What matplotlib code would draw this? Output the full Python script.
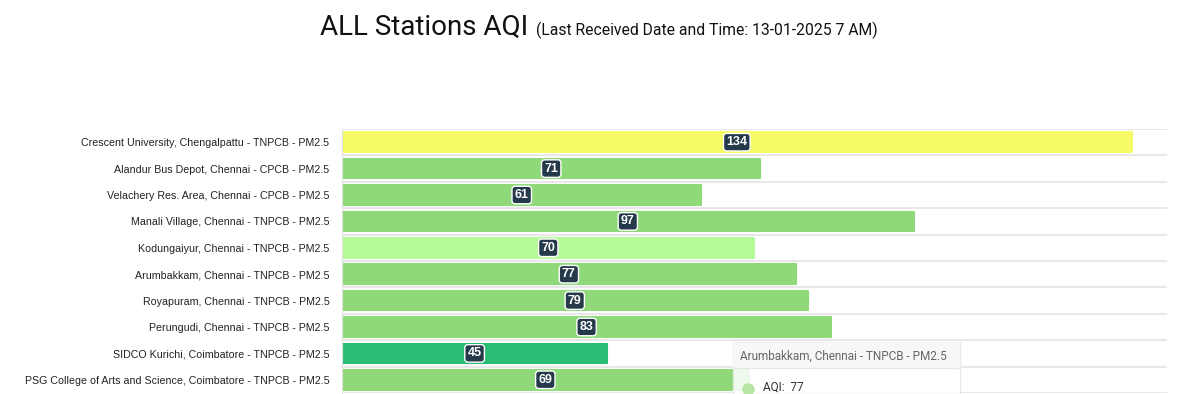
import matplotlib.pyplot as plt
from matplotlib.patches import Rectangle
from matplotlib.lines import Line2D

stations = [
    "Crescent University, Chengalpattu - TNPCB - PM2.5",
    "Alandur Bus Depot, Chennai - CPCB - PM2.5",
    "Velachery Res. Area, Chennai - CPCB - PM2.5",
    "Manali Village, Chennai - TNPCB - PM2.5",
    "Kodungaiyur, Chennai - TNPCB - PM2.5",
    "Arumbakkam, Chennai - TNPCB - PM2.5",
    "Royapuram, Chennai - TNPCB - PM2.5",
    "Perungudi, Chennai - TNPCB - PM2.5",
    "SIDCO Kurichi, Coimbatore - TNPCB - PM2.5",
    "PSG College of Arts and Science, Coimbatore - TNPCB - PM2.5",
]
aqi = [134, 71, 61, 97, 70, 77, 79, 83, 45, 69]
colors = ["#f4fb66", "#8fd97b", "#8fd97b", "#8fd97b", "#b6fb97",
          "#8fd97b", "#8fd97b", "#8fd97b", "#2bbd73", "#8fd97b"]

W, H = 1200, 394
fig = plt.figure(figsize=(12, 3.94), dpi=100)
ax = fig.add_axes([342 / W, 1 - 393 / H, (1167 - 342) / W, (393 - 129) / H])

y = list(range(len(stations)))
bars = ax.barh(y, aqi, height=0.74, color=colors, edgecolor=colors,
               linewidth=1.5, joinstyle="round")

for yi, v in zip(y, aqi):
    ax.text(v / 2, yi, str(v), ha="center", va="center", color="white",
            fontsize=9, fontweight="bold", family="Liberation Sans",
            bbox=dict(boxstyle="round,pad=0.22,rounding_size=0.25",
                      fc="#24394a", ec="white", lw=1))

ax.set_xlim(0, 140)
ax.set_ylim(len(stations) - 0.5, -0.5)
ax.set_yticks(y)
ax.set_yticklabels(stations, fontsize=7.7, family="Liberation Sans", color="#222222")
ax.set_yticks([i - 0.5 for i in range(len(stations) + 1)], minor=True)
ax.tick_params(axis="y", which="both", length=0, pad=9)
ax.set_xticks([])
ax.grid(True, which="minor", axis="y", color="#e4e4e4", lw=1.2)
ax.set_axisbelow(True)
for s in ["top", "right", "bottom"]:
    ax.spines[s].set_visible(False)
ax.spines["left"].set_color("#e0e0e0")

# title
fig.text(320 / W, 1 - 35 / H, "ALL Stations AQI", fontsize=20, family="Roboto",
         color="#111111", va="baseline")
fig.text(536 / W, 1 - 35 / H, "(Last Received Date and Time: 13-01-2025 7 AM)",
         fontsize=11.3, family="Roboto", color="#111111", va="baseline")

# tooltip
fig.patches.append(Rectangle((733 / W, 0), (960 - 733) / W, (394 - 342) / H,
                             transform=fig.transFigure, fc="white", alpha=0.85,
                             ec="#e8e8e8", lw=1, zorder=5))
fig.patches.append(Rectangle((733 / W, 1 - 368 / H), (960 - 733) / W, (368 - 342) / H,
                             transform=fig.transFigure, fc="#f7f7f7", alpha=0.9,
                             ec="none", zorder=5))
fig.lines.append(Line2D([733 / W, 960 / W], [1 - 368 / H, 1 - 368 / H],
                        transform=fig.transFigure, color="#e6e6e6", lw=1, zorder=6))
fig.text(740 / W, 1 - 356 / H, "Arumbakkam, Chennai - TNPCB - PM2.5", fontsize=8.5,
         family="Roboto", color="#666666", va="center", zorder=7)
fig.lines.append(Line2D([748 / W], [1 - 389 / H], transform=fig.transFigure,
                        marker="o", markersize=9, color="#b6e6a5", mec="none",
                        zorder=7))
fig.text(763 / W, 1 - 387 / H, "AQI:  77", fontsize=8.5, family="Roboto",
         color="#333333", va="center", zorder=7)

fig.savefig("out.png", dpi=100)
